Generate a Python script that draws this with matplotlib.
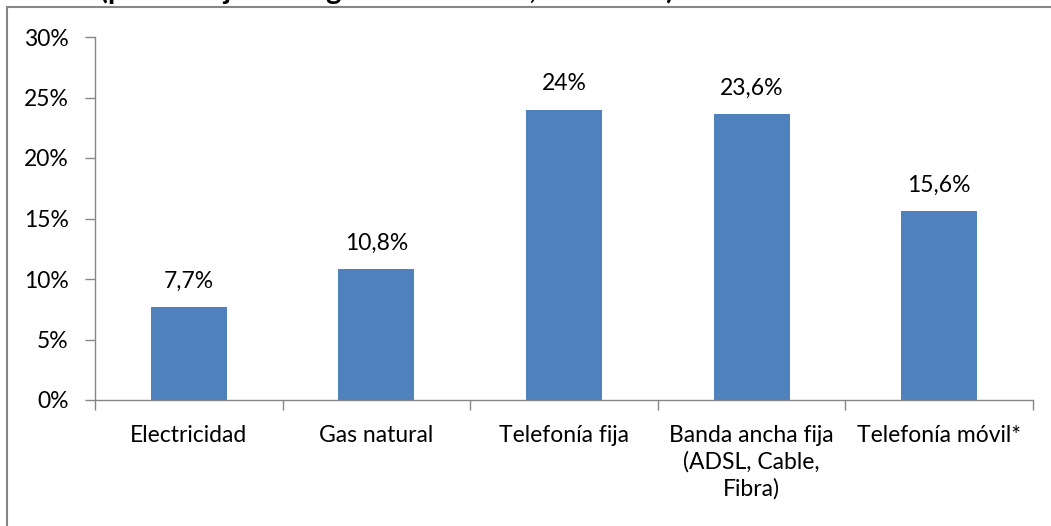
import matplotlib.pyplot as plt
import numpy as np
from matplotlib.patches import Rectangle
from matplotlib.ticker import FixedLocator

categories = ['Electricidad', 'Gas natural', 'Telefonía fija',
              'Banda ancha fija\n(ADSL, Cable,\nFibra)', 'Telefonía móvil*']
values = [7.7, 10.8, 24.0, 23.6, 15.6]
labels = ['7,7%', '10,8%', '24%', '23,6%', '15,6%']
yticks = [0, 5, 10, 15, 20, 25, 30]
title = '(porcentaje de hogares afectados, año 2012)'

BAR = '#4F81BD'
AXIS = '#868686'
FS = 16.5
plt.rcParams['font.family'] = ['Lato', 'DejaVu Sans']

W, H = 1051, 526
fig = plt.figure(figsize=(W / 100, H / 100), dpi=100)

# outer chart frame (cut off at right/bottom like the screenshot)
fig.patches.append(Rectangle((7 / W, -0.1), 1.2, 1 - 7 / H + 0.1,
                             transform=fig.transFigure, fill=False,
                             edgecolor=AXIS, lw=1.5))
# title mostly outside the visible area, only descenders show
fig.text(100 / W, 1 + 1 / H, title, fontsize=21, fontweight='bold',
         ha='left', va='baseline')

ax = fig.add_axes([95 / W, 1 - 400 / H, (1033 - 95) / W, (400 - 37) / H])
x = np.arange(len(categories))
ax.bar(x, values, width=0.405, color=BAR)
for xi, v, lab in zip(x, values, labels):
    ax.annotate(lab, (xi, v), xytext=(0, 11), textcoords='offset points',
                ha='center', va='bottom', fontsize=FS)

ax.set_xlim(-0.5, len(categories) - 0.5)
ax.set_ylim(0, 30)
ax.set_yticks(yticks)
ax.set_yticklabels([f'{t}%' for t in yticks], fontsize=FS)
ax.set_xticks(x)
ax.set_xticklabels(categories, fontsize=FS, linespacing=1.3, va='top')
ax.xaxis.set_minor_locator(FixedLocator(np.arange(-0.5, len(categories), 1)))
ax.tick_params(axis='x', which='major', length=0, pad=18)
ax.tick_params(axis='x', which='minor', length=7, color=AXIS, width=1)
ax.tick_params(axis='y', length=7, color=AXIS, width=1, pad=12)
for s in ['top', 'right']:
    ax.spines[s].set_visible(False)
for s in ['left', 'bottom']:
    ax.spines[s].set_color(AXIS)
    ax.spines[s].set_linewidth(1)

fig.savefig('out.png', dpi=100)
